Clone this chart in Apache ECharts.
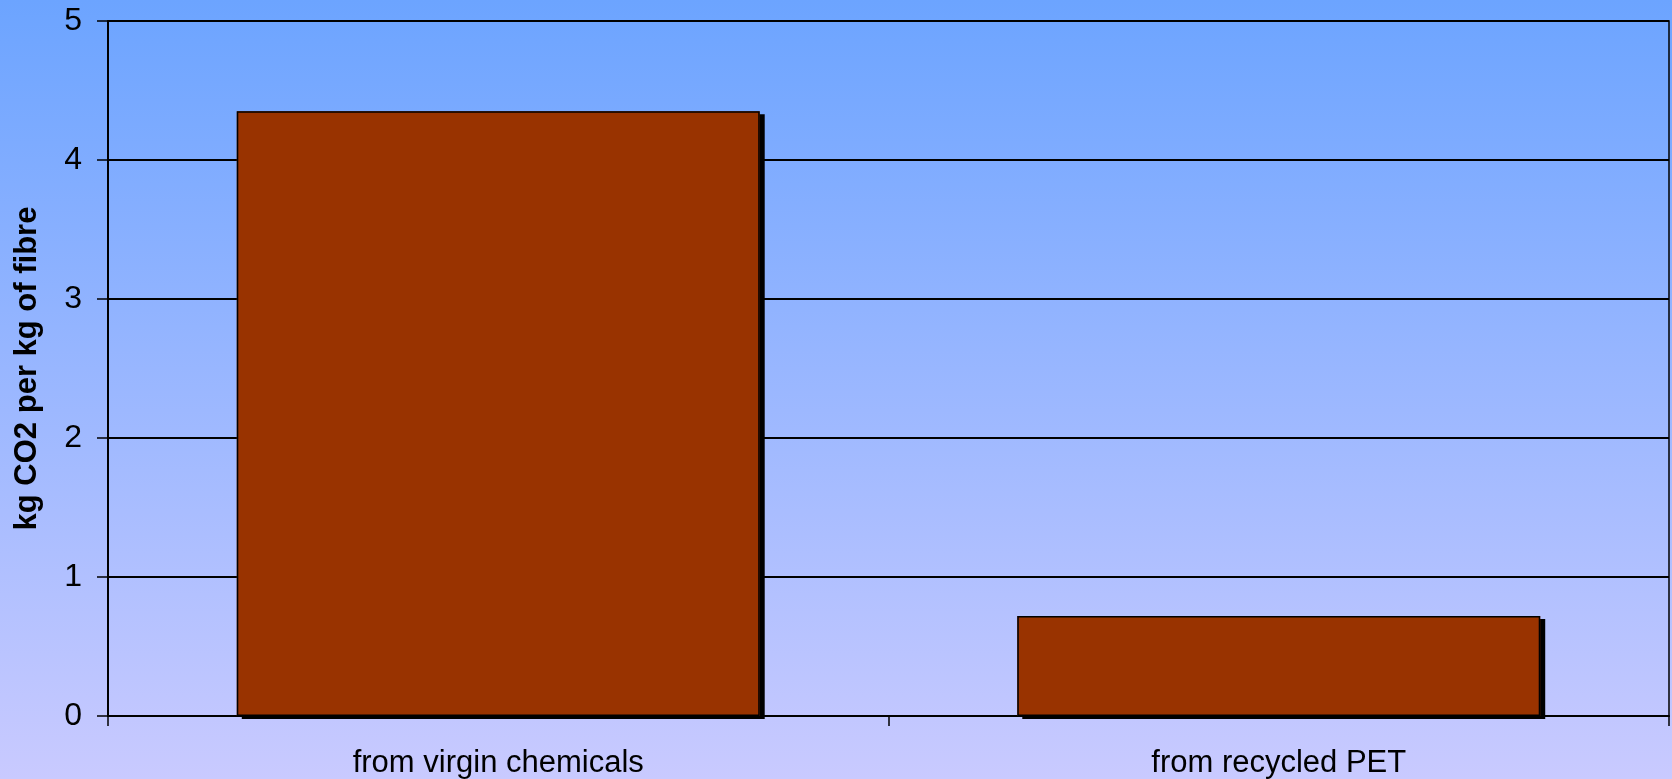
<!DOCTYPE html>
<html>
<head>
<meta charset="utf-8">
<script src="https://cdn.jsdelivr.net/npm/echarts@6/dist/echarts.min.js"></script>
<style>
html,body{margin:0;padding:0;}
#c{width:1672px;height:779px;}
</style>
</head>
<body>
<div id="c"></div>
<script>
const categories = ["from virgin chemicals", "from recycled PET"];
const values = [4.35, 0.72];
const yTicks = [0, 1, 2, 3, 4, 5];
const yAxisTitle = "kg CO2 per kg of fibre";

const chart = echarts.init(document.getElementById('c'));
chart.setOption({
  backgroundColor: {
    type: 'linear', x: 0, y: 0, x2: 0, y2: 1,
    colorStops: [{offset: 0, color: '#6ca4ff'}, {offset: 1, color: '#c9caff'}]
  },
  animation: false,
  grid: {
    left: 108, right: 3, top: 21, bottom: 63,
    containLabel: false,
    outerBoundsMode: 'none',
    show: true, borderColor: '#000', borderWidth: 1.5, backgroundColor: 'transparent'
  },
  xAxis: {
    type: 'category',
    data: categories,
    axisLine: {lineStyle: {color: '#000', width: 2}},
    axisTick: {show: true, length: 10, lineStyle: {color: '#000', width: 1.5}},
    axisLabel: {color: '#000', fontFamily: 'Liberation Sans, Arial', fontSize: 31, margin: 32, interval: 0}
  },
  yAxis: {
    type: 'value',
    min: 0, max: 5, interval: 1,
    name: yAxisTitle,
    nameLocation: 'middle',
    nameGap: 65,
    nameMoveOverlap: false,
    nameTextStyle: {color: '#000', fontFamily: 'Liberation Sans, Arial', fontSize: 31, fontWeight: 'bold'},
    axisLine: {show: true, lineStyle: {color: '#000', width: 2}},
    axisTick: {show: true, length: 11, lineStyle: {color: '#000', width: 1.5}},
    axisLabel: {color: '#000', fontFamily: 'Liberation Sans, Arial', fontSize: 32, margin: 26,
      formatter: v => yTicks.includes(v) ? String(v) : ''},
    splitLine: {show: true, lineStyle: {color: '#000', width: 1.8}}
  },
  series: [{
    type: 'bar',
    data: values,
    barCategoryGap: '33%',
    itemStyle: {
      color: '#993300',
      borderWidth: 0,
      shadowColor: '#000',
      shadowBlur: 0,
      shadowOffsetX: 5,
      shadowOffsetY: 3
    }
  }, {
    type: 'bar',
    data: values,
    barCategoryGap: '33%',
    barGap: '-100%',
    silent: true,
    itemStyle: {
      color: 'rgba(0,0,0,0)',
      borderColor: '#000',
      borderWidth: 1.5
    }
  }]
});
</script>
</body>
</html>
